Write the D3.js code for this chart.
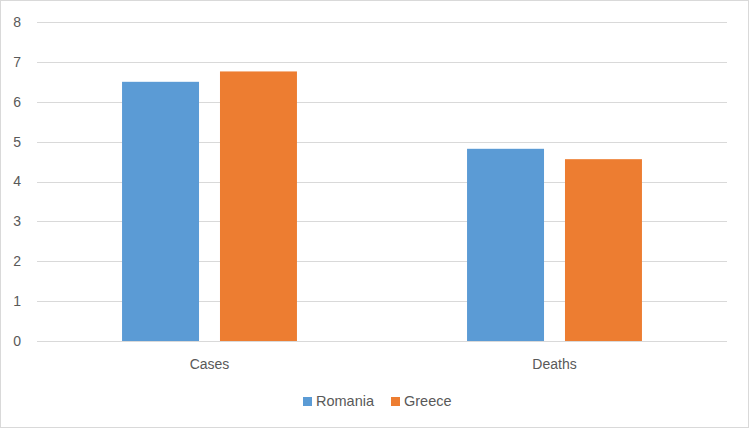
<!DOCTYPE html>
<html>
<head>
<meta charset="utf-8">
<script src="https://cdn.jsdelivr.net/npm/d3@7"></script>
<style>
  body { margin: 0; background: #fff; }
  text { font-family: "Liberation Sans", Arial, sans-serif; fill: #595959; }
</style>
</head>
<body>
<div class="svg_container"></div>
<script>
// data
var categories = ["Cases", "Deaths"];
var seriesNames = ["Romania", "Greece"];
var romania = [6.5, 4.82];
var greece = [6.76, 4.56];
var yTicks = [0, 1, 2, 3, 4, 5, 6, 7, 8];
var colors = ["#5B9BD5", "#ED7D31"];

var values = [romania, greece];

var W = 750, H = 431;
var margin = { top: 22, right: 23, bottom: 90, left: 37 },
  width = W - margin.left - margin.right,
  height = H - margin.top - margin.bottom;

var svg = d3.select(".svg_container").append("svg")
  .attr("width", W)
  .attr("height", H);

// outer chart border
svg.append("rect")
  .attr("x", 0.5).attr("y", 0.5)
  .attr("width", W - 2).attr("height", H - 4)
  .attr("fill", "#fff")
  .attr("stroke", "#d9d9d9");

var g = svg.append("g")
  .attr("transform", "translate(" + margin.left + "," + margin.top + ")");

var x0 = d3.scaleBand()
  .domain(categories)
  .range([0, width])
  .paddingInner(0.493)
  .paddingOuter(0.2465);

var x1 = d3.scaleBand()
  .domain(seriesNames)
  .range([0, x0.bandwidth()])
  .paddingInner(0.214);

var y = d3.scaleLinear()
  .domain([0, 8])
  .range([height, 0]);

// gridlines
g.selectAll(".grid")
  .data(yTicks)
  .enter().append("line")
  .attr("x1", 0).attr("x2", width)
  .attr("y1", function(d) { return Math.round(y(d)) + 0.5; })
  .attr("y2", function(d) { return Math.round(y(d)) + 0.5; })
  .attr("stroke", "#d9d9d9")
  .attr("stroke-width", 1);

// y tick labels
g.selectAll(".ylab")
  .data(yTicks)
  .enter().append("text")
  .attr("x", -16)
  .attr("y", function(d) { return y(d); })
  .attr("dy", "0.35em")
  .attr("text-anchor", "end")
  .style("font-size", "14px")
  .text(function(d) { return d; });

// bars
var groups = g.selectAll(".cat")
  .data(categories)
  .enter().append("g")
  .attr("transform", function(d) { return "translate(" + x0(d) + ",0)"; });

groups.selectAll("rect")
  .data(function(d, i) {
    return seriesNames.map(function(s, j) { return { s: s, v: values[j][i], c: colors[j] }; });
  })
  .enter().append("rect")
  .attr("x", function(d) { return x1(d.s); })
  .attr("width", x1.bandwidth())
  .attr("y", function(d) { return y(d.v); })
  .attr("height", function(d) { return height - y(d.v); })
  .attr("fill", function(d) { return d.c; });

// category labels
g.selectAll(".xlab")
  .data(categories)
  .enter().append("text")
  .attr("x", function(d) { return x0(d) + x0.bandwidth() / 2; })
  .attr("y", height + 28)
  .attr("text-anchor", "middle")
  .style("font-size", "14px")
  .text(function(d) { return d; });

// legend
var legend = svg.append("g");
var lx = [303, 391];
seriesNames.forEach(function(s, i) {
  legend.append("rect")
    .attr("x", lx[i]).attr("y", 397)
    .attr("width", 9).attr("height", 9)
    .attr("fill", colors[i]);
  legend.append("text")
    .attr("x", lx[i] + 13).attr("y", 406)
    .style("font-size", "14.5px")
    .text(s);
});
</script>
</body>
</html>
